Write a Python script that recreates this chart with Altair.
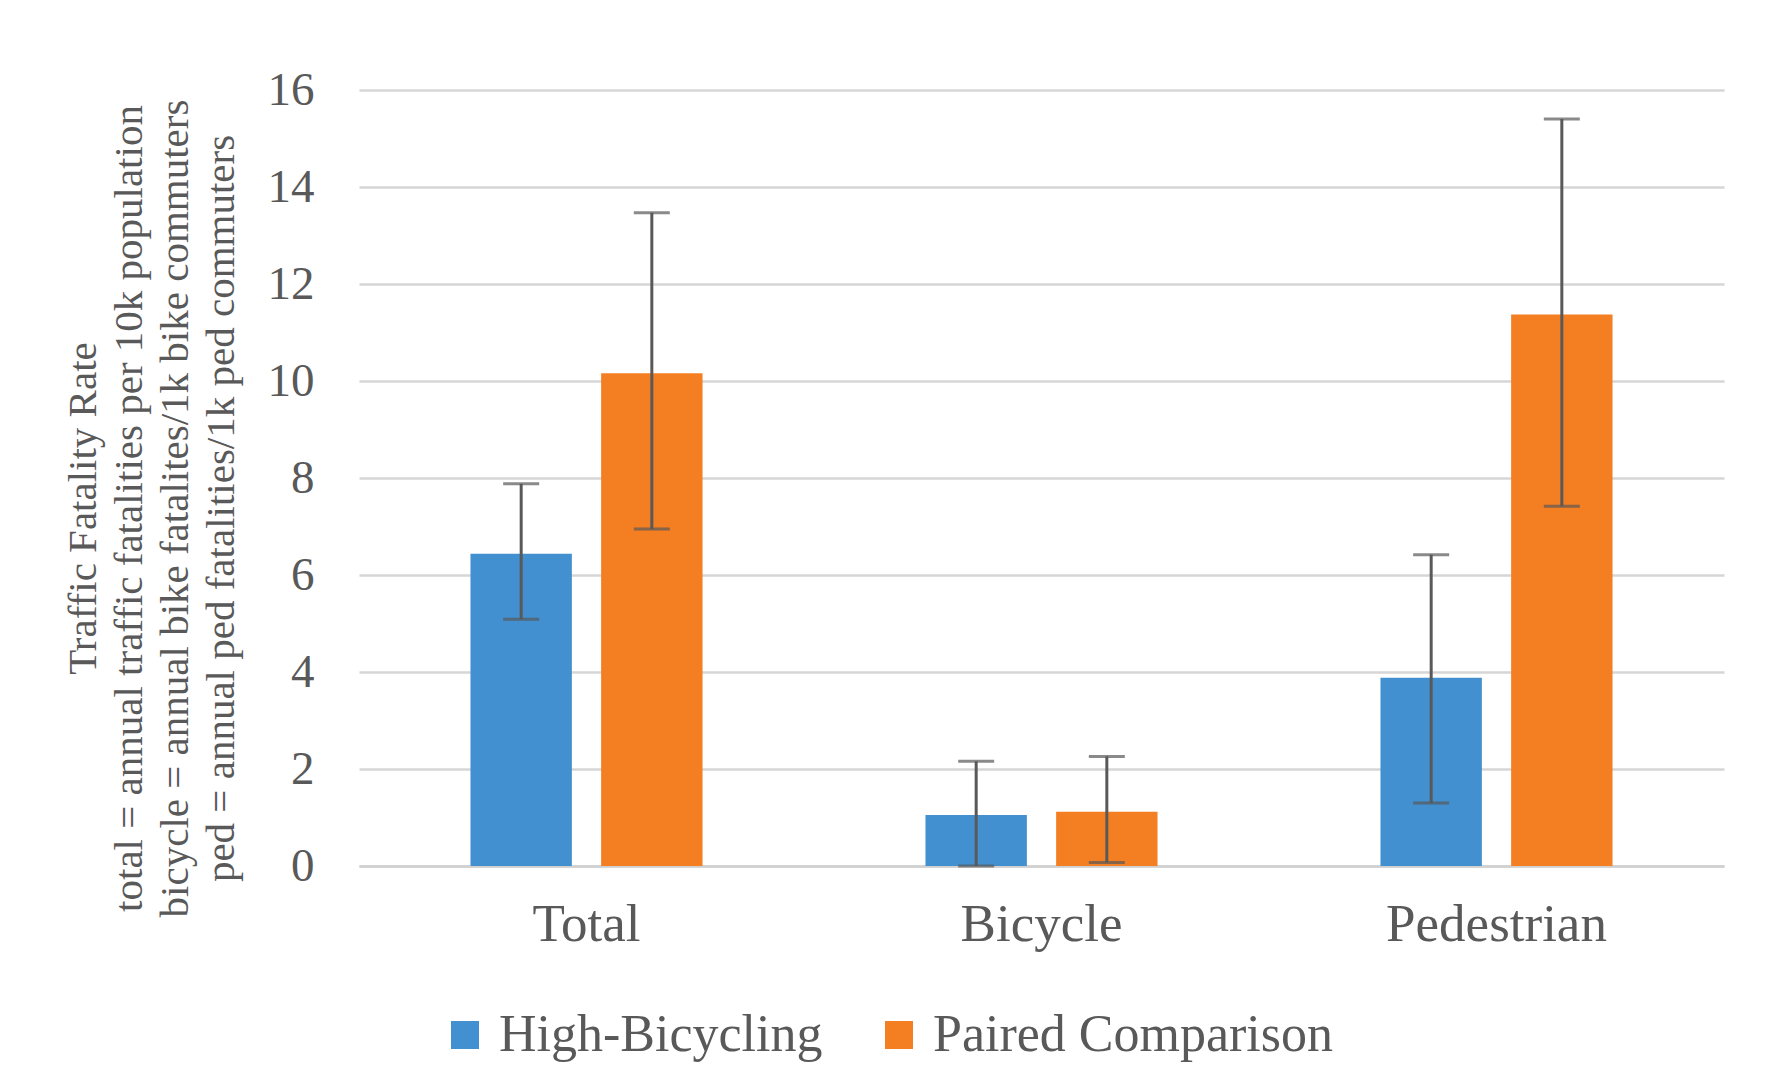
import altair as alt
import pandas as pd

categories = ["Total", "Bicycle", "Pedestrian"]
series = ["High-Bicycling", "Paired Comparison"]
high_vals = [6.44, 1.05, 3.88]
high_lo = [5.09, 0.0, 1.30]
high_hi = [7.88, 2.16, 6.42]
paired_vals = [10.16, 1.12, 11.37]
paired_lo = [6.95, 0.07, 7.42]
paired_hi = [13.47, 2.26, 15.40]

rows = []
for i, c in enumerate(categories):
    rows.append({"category": c, "series": series[0], "value": high_vals[i], "lo": high_lo[i], "hi": high_hi[i]})
    rows.append({"category": c, "series": series[1], "value": paired_vals[i], "lo": paired_lo[i], "hi": paired_hi[i]})
df = pd.DataFrame(rows)

FONT = "Liberation Serif"
GRAY = "#595959"

x_enc = alt.X("category:N", sort=categories,
              scale=alt.Scale(paddingInner=0.49, paddingOuter=0.245),
              axis=alt.Axis(title=None, labelAngle=0, labelFont=FONT, labelFontSize=53,
                            labelColor=GRAY, labelPadding=32, labelLimit=0, ticks=False, grid=False,
                            domain=True, domainColor="#d0d0d0", domainWidth=2.5))
xo_enc = alt.XOffset("series:N", sort=series,
                     scale=alt.Scale(paddingInner=0.224, paddingOuter=0))

title_lines = ["Traffic Fatality Rate",
               "total = annual traffic fatalities per 10k population",
               "bicycle = annual bike fatalites/1k bike commuters",
               "ped = annual ped fatalities/1k ped commuters"]

y_scale = alt.Scale(domain=[0, 16])

base = alt.Chart(df)

bars = base.mark_bar().encode(
    x=x_enc,
    xOffset=xo_enc,
    y=alt.Y("value:Q", scale=y_scale,
            axis=alt.Axis(title=title_lines, values=[0, 2, 4, 6, 8, 10, 12, 14, 16],
                          labelFont=FONT, labelFontSize=47, labelColor=GRAY, labelPadding=45,
                          ticks=False, domain=False, gridColor="#d6d6d6", gridWidth=2.5,
                          titleFont=FONT, titleFontSize=41, titleFontWeight="normal",
                          titleColor=GRAY, titleLineHeight=46, titlePadding=25, titleY=418)),
    color=alt.Color("series:N", sort=series,
                    scale=alt.Scale(domain=series, range=["#4290d0", "#f47e22"]),
                    legend=alt.Legend(title=None, orient="none", direction="horizontal",
                                      legendX=80, legendY=919, symbolType="square",
                                      symbolSize=784, symbolStrokeWidth=0,
                                      labelFont=FONT, labelFontSize=52, labelColor=GRAY,
                                      labelLimit=0, labelOffset=8, columnPadding=50)),
)

rules = base.mark_rule(color=GRAY, strokeWidth=3).encode(
    x=x_enc, xOffset=xo_enc,
    y=alt.Y("lo:Q", scale=y_scale), y2="hi:Q")

caps_hi = base.mark_tick(color=GRAY, size=36, thickness=3).encode(
    x=x_enc, xOffset=xo_enc, y=alt.Y("hi:Q", scale=y_scale))
caps_lo = base.mark_tick(color=GRAY, size=36, thickness=3).encode(
    x=x_enc, xOffset=xo_enc, y=alt.Y("lo:Q", scale=y_scale))

chart = alt.layer(bars, rules, caps_hi, caps_lo).properties(
    width=1365, height=776,
    autosize=alt.AutoSizeParams(type="none"),
    padding={"left": 351, "top": 82, "right": 38, "bottom": 214},
).configure(background="white").configure_view(strokeWidth=0)

chart.save("out.html", embed_options={"renderer": "svg", "actions": False})
